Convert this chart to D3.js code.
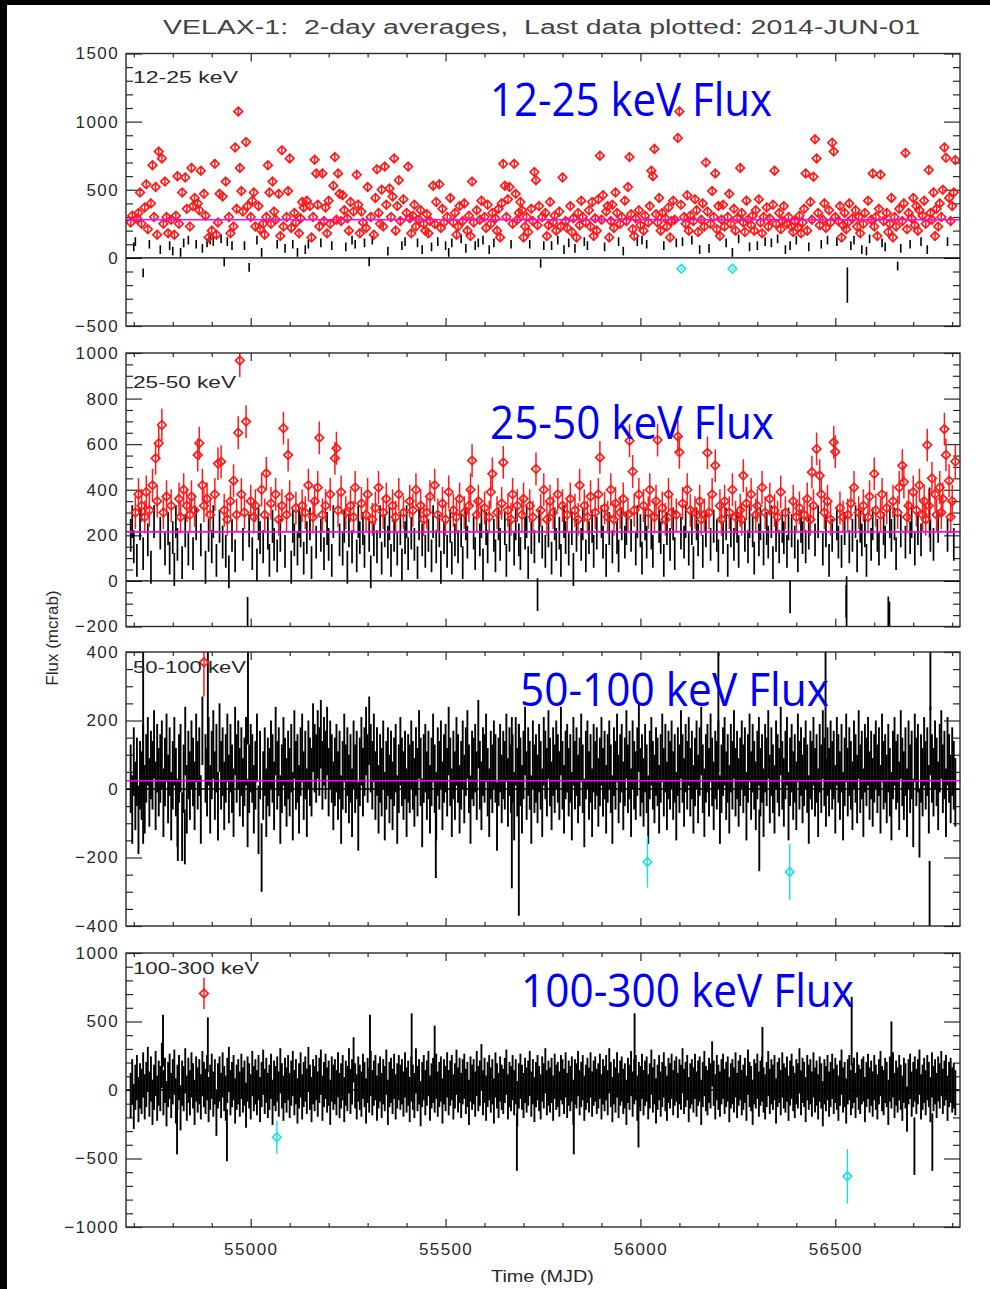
<!DOCTYPE html>
<html><head><meta charset="utf-8">
<script src="https://cdn.jsdelivr.net/npm/d3@7"></script>
<style>body{margin:0;background:#fff}svg{display:block}</style>
</head><body><svg id="c" width="990" height="1289"></svg>
<script>
// ---------------- data ----------------
const title = "VELAX-1:  2-day averages,  Last data plotted: 2014-JUN-01";
const bandLabels = ["12-25 keV", "25-50 keV", "50-100 keV", "100-300 keV"];
const fluxLabels = ["12-25 keV Flux", "25-50 keV Flux", "50-100 keV Flux", "100-300 keV Flux"];
const xTitle = "Time (MJD)";
const yTitle = "Flux (mcrab)";
const xDomain = [54680, 56820];
const xTicks = [55000, 55500, 56000, 56500];
const yDomains = [[-500, 1500], [-200, 1000], [-400, 400], [-1000, 1000]];
const yMajorStep = [500, 200, 200, 500];
const yMinorStep = [100, 50, 50, 100];
const binStart = 54692, binDays = 4;           // bin centres (MJD)
const typicalErr = [32, 72, 100, 165];         // mcrab, 1-sigma
const redMin = [140, 260, 300, 600];           // detections plotted red
const meanLevel = [280, 215, 24, null];        // magenta mean-flux line

const flux12_25 = [
260,310,80,120,290,330,480,250,-110,370,
540,210,100,400,680,300,520,170,780,60,
730,250,560,300,180,90,280,50,170,310,
600,250,40,480,110,590,360,130,230,660,
380,440,100,400,350,640,70,470,310,110,
150,130,200,120,690,170,260,470,140,450,
-30,560,120,300,180,90,230,810,360,1075,
660,490,340,90,850,380,-70,300,420,480,
230,130,380,210,40,250,170,300,680,480,
250,560,340,280,100,470,160,790,230,70,
300,490,730,220,100,330,260,40,180,290,
410,370,60,420,100,380,150,300,720,620,
390,230,110,620,270,370,180,420,250,90,
530,740,280,620,470,270,460,350,80,290,
200,410,130,340,100,610,390,180,340,260,
110,220,520,-30,300,130,170,440,650,330,
250,500,230,670,390,50,510,300,450,730,
200,380,570,270,90,430,120,330,670,290,
180,310,390,230,110,280,350,60,250,200,
320,180,270,80,530,250,410,120,540,220,
360,260,90,300,40,440,110,260,330,170,
230,380,140,270,400,70,200,310,160,560,
260,90,350,110,280,420,130,300,220,390,
60,250,330,110,290,200,360,150,400,690,
530,300,430,520,100,250,690,470,280,330,
410,350,150,230,300,190,100,360,270,630,
570,240,380,-40,300,90,330,160,240,410,
90,260,310,200,130,340,230,590,60,270,
220,110,380,190,290,70,150,330,240,420,
300,120,260,90,350,230,410,160,290,200,
430,750,280,460,80,340,380,150,270,390,
220,480,330,120,250,300,50,420,270,520,
740,320,210,160,290,120,350,240,130,200,
310,100,260,380,640,600,800,320,260,440,
200,330,90,290,230,370,150,270,420,280,
110,880,1075,390,120,300,250,460,200,310,
130,270,430,350,190,60,280,400,230,700,
340,70,250,490,300,620,210,380,160,280,
390,230,110,300,470,250,40,360,200,290,
140,660,330,260,190,420,280,80,240,310,
200,350,90,430,260,180,300,120,370,230,
290,110,390,640,250,140,330,210,270,380,
60,250,300,90,230,190,270,130,220,310,
180,260,360,620,200,80,410,280,595,870,
730,330,240,100,280,400,220,130,350,260,
845,780,300,120,270,380,150,240,330,210,
260,400,90,290,130,350,230,300,180,60,
250,330,50,420,140,280,620,230,300,160,
360,610,110,270,80,330,190,250,440,150,
300,230,-60,360,70,270,400,770,210,330,
100,290,440,240,380,200,350,120,310,420,
250,60,645,330,280,480,160,360,230,400,
300,500,810,735,120,440,270,380,480,718];

const flux25_50 = [
200,260,150,300,90,380,250,330,120,280,
390,180,310,60,420,260,538,350,604,210,
684,300,140,370,230,100,330,190,50,260,
160,360,280,80,400,220,330,140,290,370,
120,310,250,552,604,180,420,330,60,360,
200,290,150,260,380,90,515,240,523,170,
310,130,270,40,350,200,440,110,290,650,
967,380,160,300,699,-143,220,350,120,280,
330,70,250,190,400,150,290,472,210,90,
340,240,160,380,110,270,200,330,670,130,
290,552,370,60,240,180,320,140,260,220,
330,100,300,190,420,250,80,280,350,170,
410,628,200,290,120,330,230,160,380,90,
260,538,582,310,180,390,140,240,300,60,
220,330,150,280,410,110,260,190,340,230,
130,290,380,200,40,270,180,320,150,410,
260,100,300,220,360,170,250,90,330,200,
280,140,380,230,70,300,190,260,120,350,
210,310,160,400,80,250,330,180,270,130,
300,200,370,110,260,420,150,290,220,60,
340,190,270,130,390,240,100,310,180,280,
150,360,220,80,300,250,170,330,400,528,
210,120,290,350,180,260,70,320,230,150,
280,390,470,200,110,300,250,160,340,520,
230,90,310,200,270,380,140,250,330,180,
120,290,360,210,260,80,330,190,280,150,
491,-60,240,310,170,400,130,270,220,350,
100,300,250,160,380,210,90,330,260,190,
290,140,360,230,50,310,200,270,420,160,
250,330,110,280,190,370,240,130,300,210,
380,542,260,170,320,90,280,230,400,150,
270,340,190,110,300,250,360,170,230,290,
615,200,480,310,140,260,380,220,100,330,
250,170,300,400,210,130,280,350,618,240,
190,320,90,270,230,380,160,300,250,120,
290,634,564,210,340,170,260,400,140,310,
230,80,300,250,180,350,270,130,290,220,
562,300,160,380,240,506,200,110,330,270,
190,350,250,90,300,220,400,160,280,240,
130,310,270,462,200,340,150,260,380,220,
100,290,330,180,250,410,140,300,230,170,
360,260,80,310,200,280,150,390,240,190,
300,130,250,-70,220,350,170,280,110,320,
240,190,290,150,360,210,270,477,330,180,
579,260,462,380,140,300,220,350,90,270,
200,608,567,250,170,320,130,280,230,-90,
290,150,340,200,410,260,110,300,240,180,
330,220,90,280,370,160,250,470,310,200,
140,290,380,230,170,320,-140,260,200,350,
250,120,300,410,220,506,434,170,280,330,
190,260,390,140,310,230,420,180,290,350,
270,596,330,200,450,160,380,290,240,410,
300,360,666,553,200,440,280,350,160,524];

const flux50_100 = [
30,-60,80,-20,50,-90,40,10,90,-30,
60,110,-10,70,40,130,-20,90,20,60,
100,-40,50,120,0,80,-50,40,110,20,
-70,60,90,-110,30,140,-30,70,10,100,
50,-20,120,40,80,-60,170,370,60,20,
110,-30,70,130,10,90,-50,150,40,80,
-20,60,120,0,90,30,-40,140,60,100,
20,80,-10,50,110,-70,30,90,60,-30,
40,120,-90,70,-200,10,80,-40,50,20,
100,60,-20,140,40,80,-60,30,110,50,
-10,70,20,90,-50,130,40,60,-30,80,
120,10,70,-40,100,50,20,150,90,60,
130,80,160,40,110,70,140,20,100,60,
-20,50,90,10,70,-60,40,120,30,80,
0,60,-40,100,30,70,-80,50,110,20,
80,140,60,170,90,40,120,10,80,-30,
60,20,100,-50,40,80,0,70,-20,50,
90,-60,30,110,50,10,70,-40,60,30,
100,40,-10,80,20,130,50,-70,60,90,
10,70,-30,50,120,30,-50,80,40,100,
-20,60,90,20,140,50,-40,70,10,110,
60,-30,40,100,0,80,130,30,-60,70,
50,90,10,160,40,-20,80,60,120,20,
-40,70,30,100,60,-80,50,90,0,70,
40,120,-10,80,30,60,-50,110,20,90,
50,-30,70,140,10,80,40,-60,100,30,
60,0,90,40,-40,110,70,20,130,50,
-20,80,30,100,60,10,140,40,-30,70,
90,20,60,-50,110,40,80,0,50,120,
30,-70,70,100,10,60,-40,90,40,80,
-10,50,110,20,70,-30,60,100,30,-60,
80,40,120,0,60,90,-20,50,130,30,
70,-40,100,40,10,80,150,20,60,-10,
90,30,-60,70,110,40,0,80,50,-30,
60,120,20,90,-20,70,40,100,10,60,
-50,80,30,130,60,-10,90,40,110,20,
70,-30,50,100,0,80,140,30,-40,60,
90,20,120,50,-20,70,40,100,-60,30,
80,110,10,60,-30,90,40,130,20,70,
-10,50,100,30,80,-50,60,120,10,90,
40,-20,70,110,20,60,-40,90,50,130,
0,80,30,-30,100,60,20,140,40,-10,
70,110,-50,50,90,10,60,-20,120,40,
80,0,50,100,30,-60,70,40,110,20,
60,-40,90,30,130,50,-10,80,20,100,
40,70,-30,110,60,10,90,-50,50,120,
20,80,40,-20,100,60,0,130,30,70,
-40,90,50,110,10,70,-10,60,100,30,
80,-30,120,40,60,0,90,20,-50,70,
110,40,60,-20,130,50,10,80,-40,100,
30,70,-70,120,50,90,-100,60,20,110,
40,80,-30,140,60,20,100,50,-20,90,
130,30,70,-40,110,60,0,80,40,-10];

const flux100_300 = [
-40,60,-120,20,90,-70,30,-10,110,-50,
40,150,-30,80,-90,20,120,-60,50,10,
180,-20,70,-100,40,100,-40,60,130,-80,
20,90,-130,50,10,140,-60,70,-20,110,
30,-90,80,0,60,-50,120,40,-10,90,
-70,20,100,-30,60,-170,30,80,-40,110,
10,-60,70,150,-20,40,90,-80,20,60,
-30,100,0,50,-110,80,30,-50,120,10,
60,-20,90,-70,40,130,-10,70,-40,20,
100,-90,50,10,80,-30,140,30,-60,70,
0,90,-40,50,120,-20,60,-80,30,110,
-50,40,80,-10,150,20,-70,60,10,90,
-30,70,130,-60,40,100,0,50,-90,80,
20,60,-20,110,-40,30,90,-70,50,10,
140,-10,60,220,30,-50,80,20,-30,100,
40,-80,70,0,120,-20,50,90,-60,30,
80,-40,60,10,130,-90,40,70,-10,100,
-50,30,90,20,60,-30,110,0,50,-70,
80,20,-40,140,10,60,-100,40,90,-20,
50,120,-60,30,70,0,100,-30,40,80,
-80,60,10,110,-20,50,90,-50,30,130,
0,70,-40,60,100,-10,40,-90,80,20,
60,-30,120,10,50,170,-20,70,-60,40,
90,0,60,-80,110,30,-40,80,20,-10,
70,130,-50,40,10,90,-20,60,-100,30,
100,20,-40,70,0,50,120,-30,60,-70,
40,90,10,-50,80,30,140,-20,50,0,
70,-60,100,20,40,-30,90,60,-10,110,
-40,50,10,80,-90,60,30,120,-20,40,
90,-60,20,70,0,110,-30,50,80,-10,
30,100,-50,60,10,90,-20,140,40,-70,
60,0,110,-40,50,80,-10,30,-90,70,
20,120,-30,60,90,-60,40,10,100,-20,
50,80,-50,30,130,0,60,-80,20,90,
-30,40,110,10,-60,70,30,100,-20,50,
80,-40,60,20,140,-10,40,90,-70,30,
60,0,100,-30,50,80,-90,40,120,10,
-20,70,30,190,50,-50,90,20,-30,60,
100,-10,40,80,-70,30,60,0,110,-40,
50,90,-20,20,70,-60,130,40,10,-90,
60,30,100,-30,50,80,0,-50,40,120,
-10,60,20,90,-80,40,70,-20,110,30,
0,80,-60,50,100,10,-40,60,30,140,
-20,70,40,-70,90,20,60,-30,110,0,
50,-50,80,30,-100,60,10,90,-30,40,
100,-10,70,20,-60,50,130,0,40,-80,
60,90,-20,30,70,-40,110,20,-10,60,
80,-70,40,100,0,50,-30,90,20,-50,
60,120,10,-20,70,40,-90,80,30,110,
-40,50,0,90,20,-60,70,30,-140,60,
100,-30,40,80,-10,60,130,-50,20,70,
-20,90,40,-70,110,10,60,-40,80,30,
120,-10,50,90,-60,40,70,0,30,-20];

// individual points with their own error (MJD, flux, error, class)
const extras12_25 = [[56105,-80,10,"c"],[56236,-80,10,"c"],[56531,-200,130,"k"]];
const extras25_50 = [[56529,-90,110,"k"],[56639,-150,60,"k"],[56742,300,110,"k"]];
const extras50_100 = [[54724,120,280,"k"],[54890,210,190,"k"],[54993,270,140,"k"],[54813,-120,90,"k"],
  [54831,-140,80,"k"],[55475,-140,120,"k"],[55670,-40,250,"k"],[55688,-90,280,"k"],[56200,230,180,"k"],
  [56475,250,160,"k"],[56305,-150,90,"k"],[56742,-320,110,"k"],[56744,320,90,"k"],
  [56018,-213,75,"c"],[56383,-242,82,"c"]];
const extras100_300 = [[54880,705,115,"r"],[55067,-345,120,"c"],[56531,-630,200,"c"],[54775,360,190,"k"],
  [54890,330,200,"k"],[54939,-330,190,"k"],[54811,-290,180,"k"],[55306,330,220,"k"],[55413,340,220,"k"],
  [55472,270,200,"k"],[55683,-380,210,"k"],[55829,-280,190,"k"],[55985,330,230,"k"],[55995,-230,190,"k"],
  [56313,270,190,"k"],[56542,430,250,"k"],[56644,290,210,"k"],[56703,-410,210,"k"],[56749,-380,210,"k"]];

const fluxes = [flux12_25, flux25_50, flux50_100, flux100_300];
const extras = [extras12_25, extras25_50, extras50_100, extras100_300];

// ---------------- layout ----------------
const svg = d3.select("#c");
const L = 126, R = 960;
const panelBox = [[53.5, 326], [353, 626.5], [652, 926], [953, 1227]];
const blackBarWidth = [1.6, 1.7, 1.9, 1.9];
const fontH = "'Liberation Sans', Arial, sans-serif";
const ink = "#2a2a2a";
const colors = {k: "#000", r: "#ff1a1a", c: "#22e0e6"};

// black margins of the original screenshot
svg.append("rect").attr("x", 0).attr("y", 0).attr("width", 990).attr("height", 5).attr("fill", "#000");
svg.append("rect").attr("x", 0).attr("y", 0).attr("width", 7).attr("height", 1289).attr("fill", "#000");

const x = d3.scaleLinear().domain(xDomain).range([L, R]);
const xMinor = d3.range(54700, 56821, 100);

svg.append("text").attr("x", 163).attr("y", 34).attr("font-family", fontH).attr("font-size", 20)
  .attr("fill", "#444").style("white-space", "pre").attr("textLength", 757)
  .attr("lengthAdjust", "spacingAndGlyphs").text(title);

const bandLabelLen = [105, 103, 113, 126];
const bandLabelY = [83, 388, 673, 974];
const fluxLabelPos = [[490, 116, 282], [490, 439, 284], [520, 706, 309], [521, 1007, 333]];

fluxes.forEach((vals, p) => {
  const [top, bot] = panelBox[p];
  const y = d3.scaleLinear().domain(yDomains[p]).range([bot, top]);
  const g = svg.append("g");
  const clipId = "clip" + p;
  svg.append("clipPath").attr("id", clipId).append("rect")
    .attr("x", L).attr("y", top).attr("width", R - L).attr("height", bot - top);

  const majors = d3.range(yDomains[p][0], yDomains[p][1] + 1, yMajorStep[p]);
  const minors = d3.range(yDomains[p][0], yDomains[p][1] + 1, yMinorStep[p]).filter(v => !majors.includes(v));

  // axes (ticks pointing inward)
  const styleAxis = sel => {
    sel.select(".domain").remove();
    sel.selectAll(".tick line").attr("stroke", ink).attr("stroke-width", 1.2);
    sel.selectAll("text").attr("font-family", fontH).attr("font-size", 17).attr("fill", ink)
      .attr("letter-spacing", 1.4);
  };
  g.append("g").attr("transform", `translate(${L},0)`)
    .call(d3.axisLeft(y).tickValues(majors).tickSize(-16).tickPadding(7).tickFormat(d3.format("d")))
    .call(styleAxis);
  g.append("g").attr("transform", `translate(${L},0)`)
    .call(d3.axisLeft(y).tickValues(minors).tickSize(-7).tickFormat("")).call(styleAxis);
  g.append("g").attr("transform", `translate(${R},0)`)
    .call(d3.axisRight(y).tickValues(majors).tickSize(-16).tickFormat("")).call(styleAxis);
  g.append("g").attr("transform", `translate(${R},0)`)
    .call(d3.axisRight(y).tickValues(minors).tickSize(-7).tickFormat("")).call(styleAxis);
  g.append("g").attr("transform", `translate(0,${bot})`)
    .call(d3.axisBottom(x).tickValues(xTicks).tickSize(-8).tickPadding(16)
      .tickFormat(p === 3 ? d3.format("d") : ""))
    .call(styleAxis);
  g.append("g").attr("transform", `translate(0,${bot})`)
    .call(d3.axisBottom(x).tickValues(xMinor.filter(v => !xTicks.includes(v))).tickSize(-4).tickFormat(""))
    .call(styleAxis);
  g.append("g").attr("transform", `translate(0,${top})`)
    .call(d3.axisTop(x).tickValues(xTicks).tickSize(-8).tickFormat("")).call(styleAxis);
  g.append("g").attr("transform", `translate(0,${top})`)
    .call(d3.axisTop(x).tickValues(xMinor.filter(v => !xTicks.includes(v))).tickSize(-4).tickFormat(""))
    .call(styleAxis);

  // data points
  const pts = vals.map((v, i) => ({t: binStart + binDays * i, v, e: typicalErr[p], k: v > redMin[p] ? "r" : "k"}))
    .concat(extras[p].map(d => ({t: d[0], v: d[1], e: d[2], k: d[3]})));
  const dg = g.append("g").attr("clip-path", `url(#${clipId})`);
  // zero line
  dg.append("line").attr("x1", L).attr("x2", R).attr("y1", y(0)).attr("y2", y(0))
    .attr("stroke", "#000").attr("stroke-width", 1.3);
  const ordered = pts.filter(d => d.k === "k").concat(pts.filter(d => d.k !== "k"));
  dg.selectAll("line.eb").data(ordered).join("line").attr("class", "eb")
    .attr("x1", d => x(d.t)).attr("x2", d => x(d.t))
    .attr("y1", d => y(d.v - d.e)).attr("y2", d => y(d.v + d.e))
    .attr("stroke", d => colors[d.k]).attr("stroke-width", d => d.k === "k" ? blackBarWidth[p] : 1.5);
  const r = 4.3;
  dg.selectAll("path.dm").data(ordered.filter(d => d.k !== "k")).join("path").attr("class", "dm")
    .attr("d", d => `M${x(d.t)},${y(d.v) - r}L${x(d.t) + r},${y(d.v)}L${x(d.t)},${y(d.v) + r}L${x(d.t) - r},${y(d.v)}Z`)
    .attr("fill", "none").attr("stroke", d => colors[d.k]).attr("stroke-width", 1.7);
  // mean line
  if (meanLevel[p] !== null) {
    dg.append("line").attr("x1", L).attr("x2", R).attr("y1", y(meanLevel[p])).attr("y2", y(meanLevel[p]))
      .attr("stroke", "#ff00ff").attr("stroke-width", 1.6);
  }
  // frame
  g.append("rect").attr("x", L).attr("y", top).attr("width", R - L).attr("height", bot - top)
    .attr("fill", "none").attr("stroke", ink).attr("stroke-width", 1.4);

  // labels
  g.append("text").attr("x", 133).attr("y", bandLabelY[p]).attr("font-family", fontH).attr("font-size", 17)
    .attr("fill", ink).attr("textLength", bandLabelLen[p]).attr("lengthAdjust", "spacingAndGlyphs")
    .text(bandLabels[p]);
  const fp = fluxLabelPos[p];
  svg.append("text").attr("x", fp[0]).attr("y", fp[1]).attr("font-family", "'Open Sans', 'Noto Sans', sans-serif")
    .attr("font-size", 45).attr("fill", "#0000f5").attr("textLength", fp[2]).attr("lengthAdjust", "spacingAndGlyphs")
    .text(fluxLabels[p]);
});

svg.append("text").attr("x", 491).attr("y", 1282).attr("font-family", fontH).attr("font-size", 17)
  .attr("fill", ink).attr("textLength", 103).attr("lengthAdjust", "spacingAndGlyphs").text(xTitle);
svg.append("text").attr("transform", "translate(58,638) rotate(-90)").attr("text-anchor", "middle")
  .attr("font-family", fontH).attr("font-size", 17).attr("fill", ink).text(yTitle);
</script></body></html>
